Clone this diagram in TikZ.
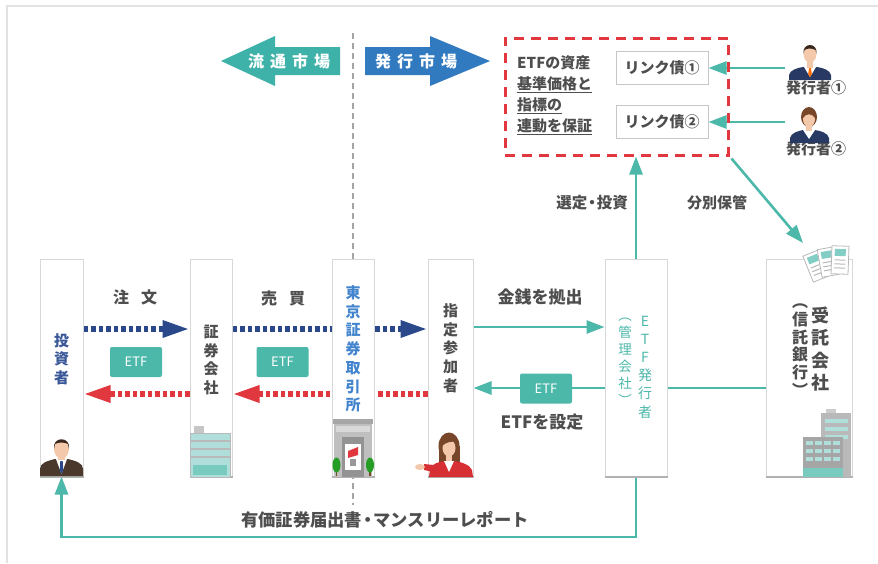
\documentclass[tikz,border=0pt]{standalone}
\usepackage{fontspec}
\newfontfamily\jp{Noto Sans CJK JP}
\usetikzlibrary{arrows.meta,backgrounds}
\definecolor{teal1}{RGB}{76,184,170}
\definecolor{tealbig}{RGB}{62,178,168}
\definecolor{bluebig}{RGB}{50,122,192}
\definecolor{navy1}{RGB}{42,72,138}
\definecolor{red1}{RGB}{224,56,62}
\definecolor{txt}{RGB}{78,78,78}
\definecolor{invblue}{RGB}{58,88,152}
\definecolor{tseblue}{RGB}{66,132,206}
\definecolor{colline}{RGB}{216,216,216}
\definecolor{colbase}{RGB}{178,178,178}
\definecolor{skin}{RGB}{244,200,170}
\definecolor{hairdark}{RGB}{58,40,30}
\definecolor{hairbrown}{RGB}{120,70,40}
\definecolor{suitbrown}{RGB}{74,56,44}
\definecolor{suitnavy}{RGB}{40,58,100}
\definecolor{jacketred}{RGB}{214,48,52}
\definecolor{bldgteal}{RGB}{176,222,218}
\definecolor{framegrey}{RGB}{226,226,226}
\definecolor{divider}{RGB}{165,165,165}

\tikzset{
  colbox/.style={draw=colline, fill=white, line width=1pt, minimum height=217pt, inner sep=0pt},
  colbaseline/.style={draw=colbase, line width=2pt},
  coltext/.style={font=\jp\bfseries\fontsize{15}{18.7}\selectfont, text=txt, align=center, inner sep=0pt},
  lbl/.style={font=\jp\bfseries\fontsize{15}{18}\selectfont, text=txt, inner sep=1pt},
  biglbl/.style={font=\jp\bfseries\fontsize{17}{20}\selectfont, text=txt, inner sep=1pt},
  bigarrowtext/.style={font=\jp\bfseries\fontsize{16}{18}\selectfont, text=white, inner sep=0pt},
  etfbox/.style={fill=teal1, rounded corners=2pt, minimum width=52pt, minimum height=30pt,
    text=white, font=\jp\fontsize{13}{15}\selectfont, inner sep=0pt},
  linkbox/.style={draw=gray!45, line width=1pt, fill=white, minimum width=92pt, minimum height=33pt,
    font=\jp\bfseries\fontsize{15}{18}\selectfont, text=txt, inner sep=0pt},
  redbox/.style={draw=red1, line width=3pt, dash pattern=on 10pt off 7pt, minimum width=223pt,
    minimum height=117pt, inner sep=0pt},
  tealarr/.style={draw=teal1, line width=2.6pt, -{Triangle[length=18pt,width=13pt]}},
  tealline/.style={draw=teal1, line width=2.6pt},
  dotblue/.style={draw=navy1, line width=6pt, dash pattern=on 4.5pt off 3pt,
    -{Triangle[length=27pt,width=16pt]}},
  dotred/.style={draw=red1, line width=6pt, dash pattern=on 4.5pt off 3pt,
    -{Triangle[length=27pt,width=16pt]}},
}
% narrow middle dot between words
\newcommand\nakaguro{\kern-3pt・\kern-3pt}

\begin{document}
\begin{tikzpicture}[x=1pt,y=-1pt]
\useasboundingbox (0,0) rectangle (878,563);

% ---------- participant columns ----------
\node[colbox, minimum width=43pt] (inv)   at (61.5,367.5) {};
\node[colbox, minimum width=42pt] (sec)   at (211,367.5) {};
\node[colbox, minimum width=42pt] (tse)   at (353,367.5) {};
\node[colbox, minimum width=45pt] (ap)    at (450.5,367.5) {};
\node[colbox, minimum width=62pt] (iss)   at (636,367.5) {};
\node[colbox, minimum width=86pt] (trust) at (809,367.5) {};
\foreach \c in {inv,sec,tse,ap,iss,trust}
  \draw[colbaseline] (\c.south west) -- (\c.south east);

\node[coltext, text=invblue] (invt) at (61.5,359) {投\\資\\者};
\node[coltext] (sect) at (211,360) {証\\券\\会\\社};
\node[coltext, text=tseblue] (tset) at (353,349) {東\\京\\証\\券\\取\\引\\所};
\node[coltext] (apt) at (450.5,348) {指\\定\\参\\加\\者};
\node[coltext, font=\jp\fontsize{14}{18.2}\selectfont, text=teal1] (isst) at (645,367) {E\\T\\F\\発\\行\\者};
\node[coltext, font=\jp\fontsize{13.5}{17}\selectfont, text=teal1] (isst2) at (625,362) {︵\\管\\理\\会\\社\\︶};
\node[coltext, font=\jp\bfseries\fontsize{18}{22.3}\selectfont] (trustt) at (820,349) {受\\託\\会\\社};
\node[coltext, font=\jp\bfseries\fontsize{16}{17.7}\selectfont] (trustt2) at (800,350) {︵\\信\\託\\銀\\行\\︶};

% ---------- issuance side: guarantee box and linked bonds ----------
\node[redbox] (gbox) at (616.5,96.5) {};
\node[font=\jp\bfseries\fontsize{15}{21}\selectfont, text=txt, align=left, anchor=west, inner sep=0pt]
  (gtext) at (517,95) {ETFの資産\\\underline{基準価格と}\\\underline{指標の}\\\underline{連動を保証}};
\node[linkbox] (link1) at (662,68) {リンク債①};
\node[linkbox] (link2) at (662,122) {リンク債②};
\node[lbl] (iss1lbl) at (816,88) {発行者①};
\node[lbl] (iss2lbl) at (816,149) {発行者②};
\coordinate (iss1) at (785,68);
\coordinate (iss2) at (785,122);
\coordinate (docs) at (803,243);

% ---------- market arrows ----------
\fill[tealbig] (221,61) -- (275,36) -- (275,47) -- (340,47) -- (340,75) -- (275,75) -- (275,86) -- cycle;
\fill[bluebig] (365,47) -- (430,47) -- (430,36) -- (490,61) -- (430,86) -- (430,75) -- (365,75) -- cycle;
\node[bigarrowtext] (ryutsu) at (289,61) {流\hspace{6pt}通\hspace{6pt}市\hspace{6pt}場};
\node[bigarrowtext] (hakko) at (416,61) {発\hspace{6pt}行\hspace{6pt}市\hspace{6pt}場};

% ---------- flow labels ----------
\node[lbl, font=\jp\bfseries\fontsize{16}{18}\selectfont] (chumon) at (135,297) {注\hspace{12pt}文};
\node[lbl, font=\jp\bfseries\fontsize{16}{18}\selectfont] (baibai) at (283,298) {売\hspace{12pt}買};
\node[biglbl] (kinsen) at (540,297) {金銭を拠出};
\node[biglbl] (settei) at (542,422) {ETFを設定};
\node[lbl, font=\jp\bfseries\fontsize{15.5}{18}\selectfont] (sentei) at (592,203) {選定\nakaguro 投資};
\node[lbl] (bunbetsu) at (717,203) {分別保管};
\node[biglbl, font=\jp\bfseries\fontsize{17.3}{20}\selectfont] (report) at (385,520) {有価証券届出書\nakaguro マンスリーレポート};

\node[etfbox] (etf1) at (136,362) {ETF};
\node[etfbox] (etf2) at (282.5,362) {ETF};
\node[etfbox] (etf3) at (546,388.5) {ETF};

% ---------- connectors (behind the columns) ----------
\begin{scope}[on background layer]
  \fill[white] (0,0) rectangle (878,563);
  \draw[framegrey, line width=2pt] (7,563) -- (7,6) -- (878,6);
  \draw[divider, line width=1.5pt, dash pattern=on 6pt off 4pt] (tse.north |- 0,33) -- (tse.south |- 0,505);

  \draw[dotblue] (inv.east |- 0,329) -- (sec.west |- 0,329);
  \draw[dotblue] (sec.east |- 0,329) -- (ap.west |- 0,329);
  \draw[dotred]  (sec.west |- 0,394) -- (inv.east |- 0,394);
  \draw[dotred]  (ap.west |- 0,394) -- (sec.east |- 0,394);

  \draw[tealarr] (ap.east |- 0,327) -- (iss.west |- 0,327);
  \draw[tealarr] (trust.west |- 0,388) -- (ap.east |- 0,388);
  \draw[tealarr] (iss.north) -- (iss.north |- gbox.south);
  \draw[tealarr] ([shift={(2,2)}]gbox.south east) -- (docs);
  \draw[tealarr] (iss1) -- (link1.east);
  \draw[tealarr] (iss2) -- (link2.east);
  \draw[tealline, -{Triangle[length=18pt,width=13pt]}] (iss.south) -- (iss.south |- 0,537) -| (inv.south);
\end{scope}

% ---------- icons ----------
% investor (man in brown suit)
\fill[suitbrown] (40,476) -- (40,469) .. controls (40,463) and (47,461) .. (55,459) -- (68,459)
  .. controls (76,461) and (83,463) .. (83,469) -- (83,476) -- cycle;
\fill[white] (56,459) -- (67,459) -- (61.5,474) -- cycle;
\fill[navy1] (60.3,461) -- (62.7,461) -- (63.3,470) -- (61.5,474) -- (59.7,470) -- cycle;
\fill[skin] (58,452) rectangle (65,460);
\fill[skin] (61.5,449) ellipse (7.5 and 9.5);
\fill[hairdark] (54,449) .. controls (52,436) and (71,436) .. (69,449) -- (68,444)
  .. controls (64,442) and (59,442) .. (55,444) -- cycle;

% securities company building
\fill[gray!45] (194,426) rectangle (204,433);
\fill[bldgteal] (190,433) rectangle (230,477);
\foreach \yy in {441,449,457}
  \draw[gray!55, line width=1.5pt] (190,\yy) -- (230,\yy);
\draw[gray!55, line width=1pt] (190,433) rectangle (230,477);
\fill[teal1!75] (193,465) rectangle (227,475);

% stock exchange building with trees
\fill[gray!50] (334,422) rectangle (372,477);
\fill[gray!70] (333,419) rectangle (373,424);
\fill[gray!30] (336,426) rectangle (370,432);
\fill[gray!85] (342,437) rectangle (364,477);
\fill[white] (345,444) rectangle (361,470);
\fill[red1] (348,451) -- (358,447) -- (358,455) -- (348,458) -- cycle;
\fill[gray!80] (350,459) rectangle (356,466);
\foreach \tx in {336.5,370} {
  \fill[brown!60!black] (\tx-0.8,466) rectangle (\tx+0.8,476);
  \fill[green!55!black!85] (\tx,465) ellipse (4 and 7.5);
}

% authorized participant (woman in red jacket)
\fill[hairbrown] (449,446) ellipse (10.5 and 13.5);
\fill[hairbrown] (438.5,446) rectangle (459.5,463);
\fill[skin] (446,455) rectangle (452,463);
\fill[skin] (449,448) ellipse (6.5 and 8.5);
\fill[hairbrown] (442,446) .. controls (442,437) and (452,436) .. (456,442)
  .. controls (452,441) and (446,442) .. (442,446) -- cycle;
\fill[jacketred] (429,477) -- (430,469) .. controls (432,464) and (438,462) .. (444,461) -- (454,461)
  .. controls (462,462) and (470,465) .. (472,470) -- (473,477) -- cycle;
\fill[white] (444,461) -- (454,461) -- (449,472) -- cycle;
\fill[jacketred] (424,464) -- (434,465) -- (434,472) -- (424,470) -- cycle;
\fill[skin] (420,467) ellipse (5 and 3);

% trust bank buildings
\fill[gray!55] (821,413) rectangle (851,477);
\fill[gray!40] (826,409) rectangle (836,413);
\foreach \wy in {419,427,435} \fill[bldgteal] (825,\wy) rectangle (848,\wy+4);
\fill[gray!70] (803,437) rectangle (843,477);
\foreach \wx in {806,815,824,833}
  \foreach \wy in {441,449,457}
    \fill[bldgteal] (\wx,\wy) rectangle ++(7,4);
\fill[teal1!75] (803,468) rectangle (843,477);

% segregated documents, fanned sheets
\foreach \ang/\cx/\cy in {22/816/266,10/828/262,-2/840/260} {
  \begin{scope}[shift={(\cx,\cy)}, rotate=\ang]
    \filldraw[fill=white, draw=gray!55, line width=0.8pt] (-8.5,-14) rectangle (8.5,14);
    \fill[teal1!70] (-5.5,-11) rectangle (5.5,-4);
    \foreach \ly in {0,4,8} \draw[gray!55, line width=1pt] (-5.5,\ly) -- (5.5,\ly);
  \end{scope}
}

% issuer 1 (man)
\fill[suitnavy] (789,80) -- (789,75) .. controls (790,70) and (797,68) .. (803,67) -- (817,67)
  .. controls (823,68) and (830,70) .. (831,75) -- (831,80) -- cycle;
\fill[white] (804,67) -- (816,67) -- (810,77) -- cycle;
\fill[orange!85!red] (809,68) -- (811,68) -- (811.8,74) -- (810,77) -- (808.2,74) -- cycle;
\fill[skin] (807,60) rectangle (813,68);
\fill[skin] (810,54) ellipse (6.5 and 8.5);
\fill[hairdark] (803.5,54) .. controls (802,42) and (818,42) .. (816.5,54) -- (815.5,50)
  .. controls (812,48) and (807,48) .. (804.5,50) -- cycle;

% issuer 2 (woman)
\fill[hairbrown] (809,117) ellipse (8 and 10);
\fill[suitnavy] (790,143) -- (790,138) .. controls (791,133) and (798,131) .. (803,130) -- (815,130)
  .. controls (821,131) and (828,133) .. (829,138) -- (829,143) -- cycle;
\fill[white] (803,130) -- (815,130) -- (809,139) -- cycle;
\fill[skin] (806,123) rectangle (812,131);
\fill[skin] (809,119) ellipse (6 and 8);
\fill[hairbrown] (803,118) .. controls (802,108) and (816,108) .. (815,118)
  .. controls (812,113) and (806,113) .. (803,118) -- cycle;

\end{tikzpicture}
\end{document}
